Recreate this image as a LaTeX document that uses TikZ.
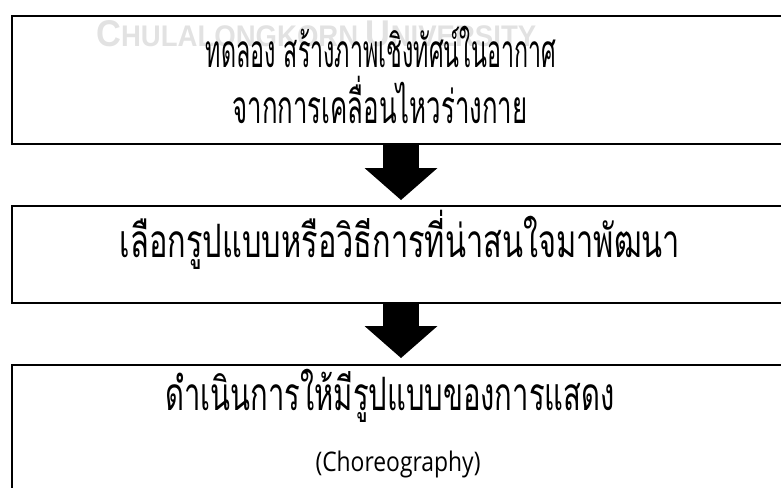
\documentclass[tikz,border=0pt]{standalone}
\usepackage{fontspec}
\usepackage{graphicx}
\usetikzlibrary{arrows.meta}
\newfontfamily\thaifont[Script=Thai,FakeStretch=0.47]{Loma}
\newfontfamily\latinfont{Open Sans}
\newfontfamily\wmfont{Liberation Sans}
\definecolor{wmgray}{HTML}{E2E2E2}
\newcommand{\fitw}[2]{\resizebox{#1}{\height}{#2}}
\begin{document}
\begin{tikzpicture}[x=1pt,y=-1pt,
  box/.style={draw, line width=2pt, inner sep=0pt, outer sep=0pt, anchor=north west, minimum width=778pt},
  thai/.style={font=\thaifont\fontsize{46}{46}\selectfont, inner sep=0pt, anchor=base},
  latin/.style={font=\latinfont\fontsize{27}{27}\selectfont, inner sep=0pt, anchor=base},
  flow/.style={line width=36pt, -{Triangle[width=73pt,length=32pt,line width=0pt]}}]
\useasboundingbox (0,0) rectangle (781,487);
\node[anchor=base west, inner sep=0pt, text=wmgray] (wm) at (96,47)
  {\resizebox{440pt}{26pt}{\wmfont\bfseries\fontsize{30}{30}\selectfont C\fontsize{24}{24}\selectfont HULALONGKORN \fontsize{30}{30}\selectfont U\fontsize{24}{24}\selectfont NIVERSITY}};
\node[box, minimum height=128pt] (b1) at (12,16) {};
\node[box, minimum height=97pt] (b2) at (12,206) {};
\node[box, minimum height=140pt] (b3) at (12,365) {};
\node[thai] (t1) at (381,67) {\fitw{350pt}{ทดลอง สร้างภาพเชิงทัศน์ในอากาศ}};
\node[thai] (t2) at (380,123) {\fitw{295pt}{จากการเคลื่อนไหวร่างกาย}};
\node[thai] (t3) at (400,257) {\fitw{560pt}{เลือกรูปแบบหรือวิธีการที่น่าสนใจมาพัฒนา}};
\node[thai] (t4) at (390,410) {\fitw{449pt}{ดำเนินการให้มีรูปแบบของการแสดง}};
\node[latin] (t5) at (398,471) {\fitw{165pt}{(Choreography)}};
\draw[flow, shorten >=6pt] (b1.south) -- (b2.north);
\draw[flow, shorten >=7pt] (b2.south) -- (b3.north);
\end{tikzpicture}
\end{document}
